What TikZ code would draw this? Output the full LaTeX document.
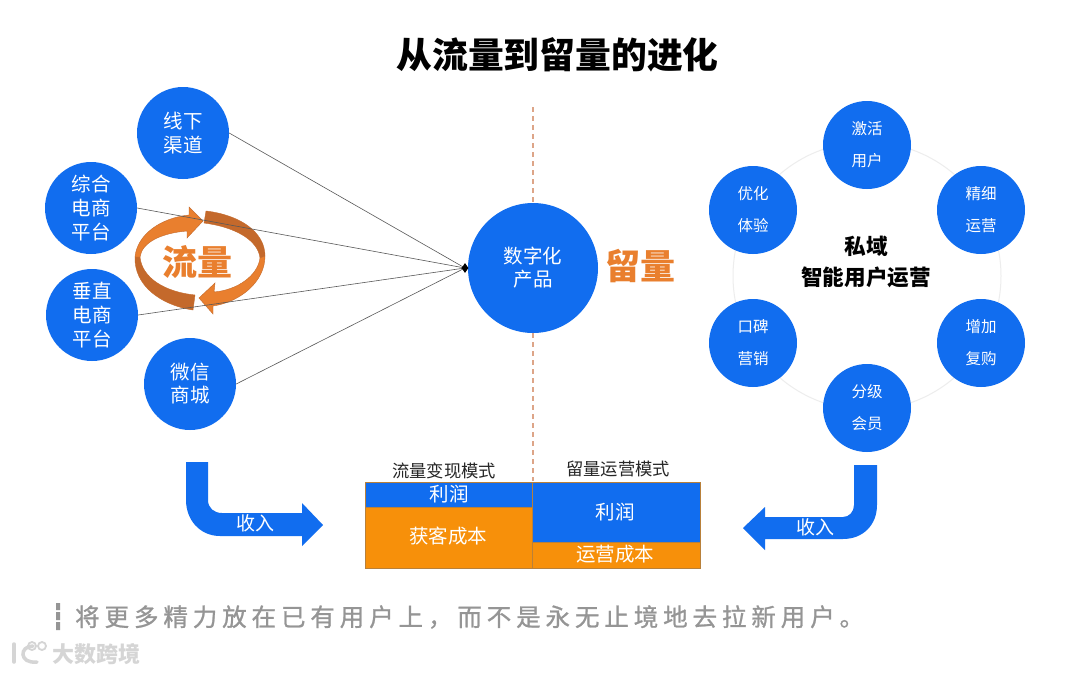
\documentclass[tikz,border=0pt]{standalone}
\usepackage{fontspec}
\setmainfont{Noto Sans CJK SC}
\newfontfamily\spacedfont[LetterSpace=20,FakeBold=1]{Noto Sans CJK SC}
\usetikzlibrary{shapes.geometric}
\definecolor{cblue}{HTML}{116DEF}
\definecolor{cbox}{HTML}{F7900A}
\definecolor{corange}{HTML}{E97F2E}
\definecolor{cdark}{HTML}{C4692B}
\definecolor{cdash}{HTML}{DDA588}
\definecolor{cedge}{HTML}{B8803A}
\definecolor{cgrey}{HTML}{959595}
\definecolor{cmark}{HTML}{D5D5D5}
\tikzset{
  x=1pt,y=-1pt,
  ball/.style={circle,fill=cblue,text=white,inner sep=0pt,align=center},
  bigball/.style={ball,minimum size=92pt,font=\fontsize{19.5}{24}\selectfont},
  ringball/.style={ball,minimum size=88pt,font=\fontsize{15.5}{32}\selectfont},
  hub/.style={ball,minimum size=130pt,font=\fontsize{19.5}{23}\selectfont},
  ray/.style={draw=black!65,line width=0.6pt},
  divider/.style={draw=cdash,line width=1.4pt,dash pattern=on 5pt off 4pt},
  barbox/.style={draw=cedge,line width=0.5pt,anchor=north west,inner sep=0pt,text=white,font=\fontsize{19.5}{23}\selectfont},
  bartitle/.style={font=\fontsize{17.3}{20}\selectfont,text=black!85},
  flowarrow/.style={fill=cblue},
  lighttwist/.style={fill=corange,draw=cdark,line width=0.4pt},
  darktwist/.style={fill=cdark,draw=cdark,line width=0.4pt},
  income/.style={text=white,font=\fontsize{19}{22}\selectfont},
}
\begin{document}
\begin{tikzpicture}
\useasboundingbox[fill=white] (0,0) rectangle (1080,673);
% title
\node[font=\fontsize{35.8}{40}\bfseries\selectfont] (title) at (557.5,55) {从流量到留量的进化};
% private-domain ring
\node[circle,draw=black!7,line width=1pt,minimum size=268pt,inner sep=0pt] (ring) at (867,276) {};
% left sources
\node[bigball] (offline) at (183,133) {\raisebox{-1pt}{线下}\\\raisebox{-1pt}{渠道}};
\node[bigball] (mall) at (91,208) {综合\\电商\\平台};
\node[bigball] (vert) at (92,315) {垂直\\电商\\平台};
\node[bigball] (wechat) at (190,384) {\raisebox{-2pt}{微信}\\\raisebox{-1pt}{商城}};
% hub
\node[hub] (hub) at (533,268) {数字化\\产品};
\node[font=\fontsize{35}{38}\bfseries\selectfont,text=corange] (retain) at (640.5,266) {留量};
% dashed divider
\coordinate (dtop) at (533,107);
\coordinate (dbot) at (533,481);
\draw[divider] (dtop) -- (hub.north);
\draw[divider] (hub.south) -- (dbot);
% twist arrows
\draw[darktwist] (135,257) .. controls (134,285) and (160,305) .. (193,310) -- (195,295)
  .. controls (165,292) and (142,278) .. (140,257) -- cycle;
\draw[darktwist] (206,211) .. controls (240,215) and (265,232) .. (265,256) -- (260,258)
  .. controls (258,240) and (235,227) .. (204,223) -- cycle;
\draw[lighttwist] (135,257) .. controls (137,235) and (160,218) .. (189,215) -- (189,207) -- (203,221) -- (187,238) -- (187,231)
  .. controls (162,233) and (142,242) .. (140,257) -- cycle;
\draw[lighttwist] (265,256) .. controls (265,282) and (240,302) .. (213,306) -- (213,314) -- (199,298) -- (215,283) -- (214,292)
  .. controls (238,290) and (258,275) .. (260,258) -- cycle;
\node[font=\fontsize{35}{38}\bfseries\selectfont,text=corange] (flowtxt) at (197.5,262) {流量};
% rays
\coordinate (tipc) at (465,268);
\draw[ray] (offline.east) -- (tipc);
\draw[ray] (mall.east) -- (tipc);
\draw[ray] (vert.east) -- (tipc);
\draw[ray] (wechat.east) -- (tipc);
\node[diamond,fill=black,inner sep=0pt,minimum width=7pt,minimum height=10pt] (tip) at (tipc) {};
% right ring
\node[ringball] (r1) at (867,145) {激活\\用户};
\node[ringball] (r2) at (981,210) {精细\\运营};
\node[ringball] (r3) at (981,343) {增加\\复购};
\node[ringball] (r4) at (867,408) {分级\\会员};
\node[ringball] (r5) at (753,343) {口碑\\营销};
\node[ringball] (r6) at (753,210) {优化\\体验};
\node[align=center,font=\fontsize{21.6}{31}\bfseries\selectfont] (priv) at (866,262) {私域\\智能用户运营};
% bars
\node[barbox,fill=cblue,minimum width=167pt,minimum height=25pt] (lp) at (365,482) {};
\node[barbox,fill=cbox,minimum width=167pt,minimum height=61pt] (lc) at (365,507) {};
\node[barbox,fill=cblue,minimum width=167.5pt,minimum height=60pt] (rp) at (532,482) {};
\node[barbox,fill=cbox,minimum width=167.5pt,minimum height=26pt] (rc) at (532,542) {};
\node[barbox,draw=none] (lpt) at (429.5,485) {利润};
\node[barbox,draw=none] (lct) at (409,527) {获客成本};
\node[barbox,draw=none] (rpt) at (595.5,503) {利润};
\node[barbox,draw=none] (rct) at (576,545) {运营成本};
\node[bartitle] (lt) at (444,471) {流量变现模式};
\node[bartitle] (rt) at (618,469) {留量运营模式};
% income arrows
\fill[flowarrow] (186,462) -- (208,462) -- (208,500) .. controls (208,508) and (214,513) .. (222,513) -- (302,513) -- (302,503) -- (323,525) -- (302,546) -- (302,536) -- (220,536)
  .. controls (200,536) and (186,520) .. (186,500) -- cycle;
\node[income] (inl) at (255,523) {收入};
\fill[flowarrow] (854,465) -- (877,465) -- (877,505) .. controls (877,525) and (863,539) .. (843,539) -- (765,539) -- (765,550) -- (743,528) -- (765,507) -- (765,517) -- (843,517)
  .. controls (849,517) and (854,512) .. (854,505) -- cycle;
\node[income] (inr) at (815,527) {收入};
% footer
\fill[cgrey] (56,603) rectangle (60,610) (56,612) rectangle (60,620) (56,622) rectangle (60,630);
\node[anchor=west,inner sep=0pt,text=cgrey,font=\spacedfont\fontsize{24.5}{28}\selectfont] (foot) at (75,617) {将更多精力放在已有用户上，而不是永无止境地去拉新用户。};
% watermark
\draw[cmark,line width=3.5pt,line cap=round] (14,644) -- (14,662);
\draw[cmark,line width=3.5pt,line cap=round] (33,646) .. controls (19,646) and (19,664) .. (37,662);
\draw[cmark,line width=1.8pt] (32,646) circle (4pt);
\draw[cmark,line width=1.8pt] (42,646) circle (4pt);
\node[anchor=west,inner sep=0pt,text=cmark,font=\fontsize{22}{24}\bfseries\selectfont] (mark) at (52,654) {大数跨境};
\end{tikzpicture}
\end{document}
